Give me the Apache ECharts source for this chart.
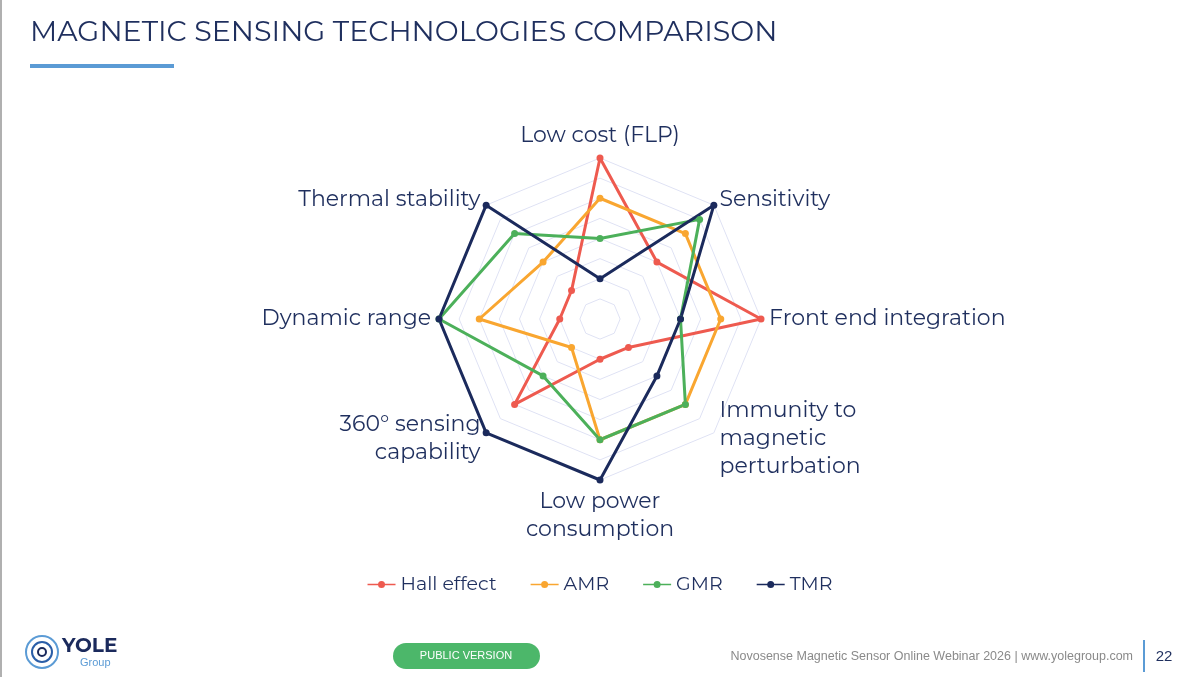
<!DOCTYPE html>
<html>
<head>
<meta charset="utf-8">
<style>
  html, body { margin: 0; padding: 0; background: #fff; }
  #chart { width: 1200px; height: 677px; }
</style>
<script src="https://cdn.jsdelivr.net/npm/echarts@6/dist/echarts.min.js"></script>
</head>
<body>
<div id="chart"></div>
<script>
// axes in ECharts order (counter-clockwise from top)
const axes = ['Low cost (FLP)', 'Thermal stability', 'Dynamic range', '360° sensing\ncapability',
  'Low power\nconsumption', 'Immunity to\nmagnetic\nperturbation', 'Front end integration', 'Sensitivity'];
const hall = [8, 2, 2, 6, 2, 2, 8, 4];
const amr = [6, 4, 6, 2, 6, 6, 6, 6];
const gmr = [4, 6, 8, 4, 6, 6, 4, 7];
const tmr = [2, 8, 8, 8, 8, 4, 4, 8];
const seriesNames = ['Hall effect', 'AMR', 'GMR', 'TMR'];
const colors = ['#ee5a4f', '#f9a630', '#4cb05a', '#1b2a5c'];

const chart = echarts.init(document.getElementById('chart'));
const navy = '#1f2f5e';
const font = 'Montserrat, "Open Sans", sans-serif';

const option = {
  animation: false,
  color: colors,
  textStyle: { fontFamily: font },
  legend: {
    data: seriesNames,
    bottom: 78,
    left: 'center',
    itemGap: 34,
    itemWidth: 28,
    itemHeight: 10,
    icon: 'path://M0,4.2 L11,4.2 L11,5.8 L0,5.8 Z M17,4.2 L28,4.2 L28,5.8 L17,5.8 Z M10.5,5 A3.5,3.5 0 1,1 17.5,5 A3.5,3.5 0 1,1 10.5,5 Z',
    textStyle: { fontSize: 19, color: navy }
  },
  radar: {
    center: [600, 319],
    radius: 161,
    startAngle: 90,
    splitNumber: 8,
    indicator: axes.map(n => ({ name: n, max: 8, min: 0 })),
    nameGap: 8,
    axisName: { color: navy, fontSize: 22, lineHeight: 28 },
    axisLine: { show: false },
    splitArea: { show: false },
    splitLine: { lineStyle: { color: '#dfe2f4', width: 1 } }
  },
  series: [{
    type: 'radar',
    symbol: 'circle',
    symbolSize: 7,
    lineStyle: { width: 3 },
    data: [hall, amr, gmr, tmr].map((v, i) => ({ name: seriesNames[i], value: v }))
  }],
  graphic: [
    { type: 'rect', shape: { x: 0, y: 0, width: 2, height: 677 }, style: { fill: '#b0b0b0' } },
    { type: 'text', left: 30, top: 18, style: { text: 'MAGNETIC SENSING TECHNOLOGIES COMPARISON', fontSize: 28.5, fill: navy, fontFamily: font } },
    { type: 'rect', shape: { x: 30, y: 64, width: 144, height: 4 }, style: { fill: '#5b9bd5' } },
    // logo
    { type: 'circle', shape: { cx: 42, cy: 652, r: 16 }, style: { fill: 'none', stroke: '#5b9bd5', lineWidth: 2 } },
    { type: 'circle', shape: { cx: 42, cy: 652, r: 10 }, style: { fill: 'none', stroke: '#2a5ea8', lineWidth: 2 } },
    { type: 'circle', shape: { cx: 42, cy: 652, r: 4 }, style: { fill: 'none', stroke: '#1b2a5c', lineWidth: 2 } },
    { type: 'text', left: 62, top: 636, style: { text: 'YOLE', fontSize: 20, fontWeight: 'bold', fill: '#1b2a5c', fontFamily: font } },
    { type: 'text', left: 80, top: 657, style: { text: 'Group', fontSize: 11, fill: '#5b9bd5' } },
    // public version pill
    { type: 'rect', shape: { x: 393, y: 643, width: 147, height: 26, r: 13 }, style: { fill: '#4cb76a' } },
    { type: 'text', x: 466, y: 656, style: { text: 'PUBLIC VERSION', fontSize: 11, fill: '#fff', align: 'center', verticalAlign: 'middle' } },
    { type: 'text', x: 1133, y: 657, style: { text: 'Novosense Magnetic Sensor Online Webinar 2026 | www.yolegroup.com', fontSize: 12.5, fill: '#8a8a8a', align: 'right', verticalAlign: 'middle' } },
    { type: 'rect', shape: { x: 1143, y: 640, width: 2, height: 32 }, style: { fill: '#5b9bd5' } },
    { type: 'text', x: 1164, y: 657, style: { text: '22', fontSize: 15, fill: navy, align: 'center', verticalAlign: 'middle' } }
  ]
};
chart.setOption(option);
</script>
</body>
</html>
